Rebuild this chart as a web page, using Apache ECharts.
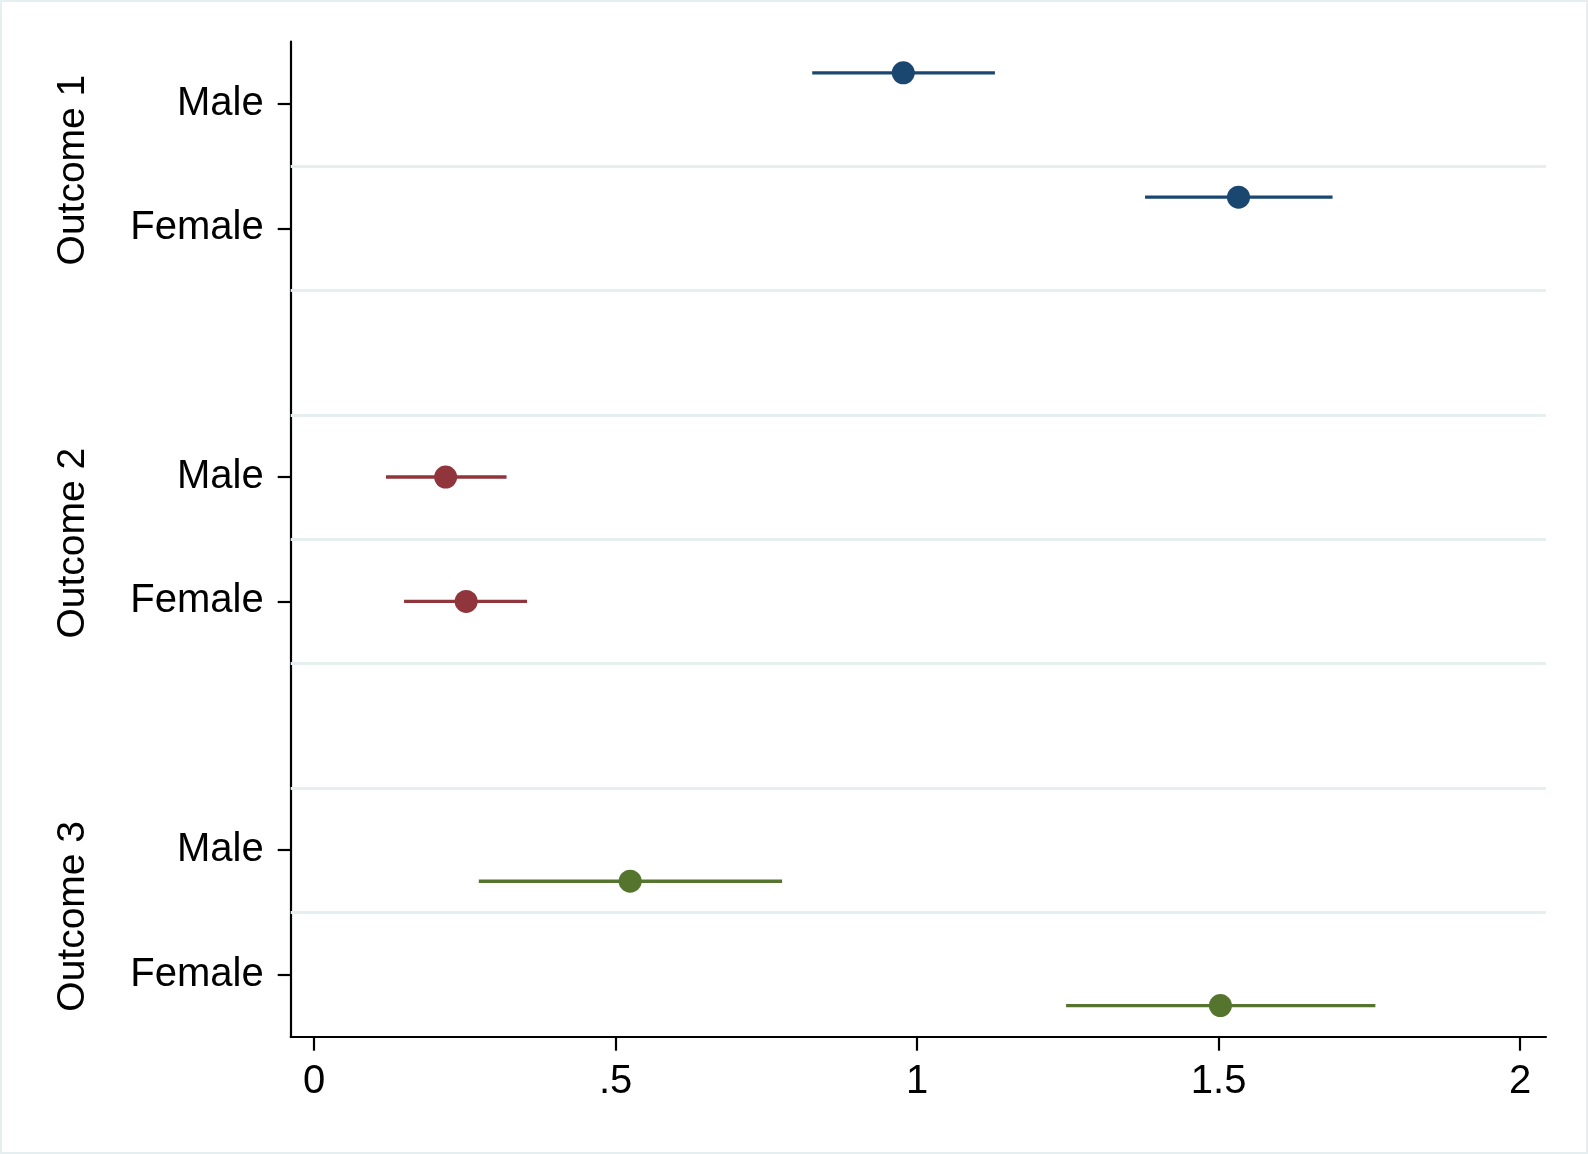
<!DOCTYPE html>
<html>
<head>
<meta charset="utf-8">
<title>Coefficient plot</title>
<script src="https://cdn.jsdelivr.net/npm/echarts@6/dist/echarts.min.js"></script>
<style>
  html, body { margin: 0; padding: 0; background: #fff; }
  #frame { width: 1588px; height: 1154px; box-sizing: border-box; border: 2px solid #e6eef0; }
  #chart { width: 1584px; height: 1150px; }
</style>
</head>
<body>
<div id="frame"><div id="chart"></div></div>
<script>
// data
var outcomes = ['Outcome 1', 'Outcome 2', 'Outcome 3'];
var groups = ['Male', 'Female'];
var estimate = [[0.977, 1.533], [0.218, 0.252], [0.524, 1.503]];
var ciLow    = [[0.826, 1.378], [0.119, 0.149], [0.273, 1.247]];
var ciHigh   = [[1.129, 1.689], [0.319, 0.353], [0.776, 1.760]];
var xTicks = [0, 0.5, 1, 1.5, 2];

// look
var colors = ['#1a476f', '#90353b', '#55752f'];
var offsets = [-0.25, 0, 0.25];   // markers sit off the row line as in the original
var font = 'Liberation Sans, Arial, Helvetica, sans-serif';

// row layout: each outcome gets its groups plus one empty row
var rowsPer = groups.length + 1;
var lastRow = outcomes.length * rowsPer - 2;
var rowTicks = [], rowNames = {}, groupCenters = [], groupNames = {}, gridLines = [];
outcomes.forEach(function (o, i) {
    groups.forEach(function (g, j) {
        var r = i * rowsPer + j;
        rowTicks.push(r);
        rowNames[r] = g;
    });
    var c = i * rowsPer + (groups.length - 1) / 2;
    groupCenters.push(c);
    groupNames[c] = o;
});
for (var k = 0; k < lastRow; k++) gridLines.push({ yAxis: k + 0.5 });

var series = [{
    type: 'line',
    data: [],
    z: 1,
    markLine: {
        silent: true,
        symbol: 'none',
        animation: false,
        label: { show: false },
        lineStyle: { color: '#e6eef0', width: 3, type: 'solid' },
        data: gridLines
    }
}];

outcomes.forEach(function (o, i) {
    var bars = [], pts = [];
    groups.forEach(function (g, j) {
        var y = i * rowsPer + j + offsets[i];
        bars.push([ciLow[i][j], ciHigh[i][j], y]);
        pts.push([estimate[i][j], y]);
    });
    series.push({
        type: 'custom',
        name: o,
        z: 2,
        data: bars,
        encode: { x: [0, 1], y: 2 },
        renderItem: function (params, api) {
            var a = api.coord([api.value(0), api.value(2)]);
            var b = api.coord([api.value(1), api.value(2)]);
            return {
                type: 'line',
                shape: { x1: a[0], y1: a[1], x2: b[0], y2: b[1] },
                style: { stroke: colors[i], lineWidth: 3.3 }
            };
        }
    });
    series.push({
        type: 'scatter',
        name: o,
        z: 3,
        data: pts,
        symbol: 'circle',
        symbolSize: 23,
        itemStyle: { color: colors[i], opacity: 1 }
    });
});

var yBase = {
    type: 'value',
    inverse: true,
    min: -0.5,
    max: lastRow + 0.5,
    splitLine: { show: false }
};

var chart = echarts.init(document.getElementById('chart'));
chart.setOption({
    animation: false,
    backgroundColor: '#fff',
    textStyle: { fontFamily: font },
    grid: { left: 288.7, right: 40, top: 39.7, bottom: 115.3 },
    xAxis: {
        type: 'value',
        min: -0.039,
        max: 2.043,
        splitLine: { show: false },
        axisLine: { onZero: false, lineStyle: { color: '#000', width: 2.2 } },
        axisTick: { customValues: xTicks, length: 14, lineStyle: { color: '#000', width: 2.2 } },
        axisLabel: {
            customValues: xTicks,
            color: '#000', fontSize: 40, fontFamily: font, margin: 25,
            formatter: function (v) { return String(v).replace(/^0\./, '.'); }
        }
    },
    yAxis: [
        Object.assign({}, yBase, {
            axisLine: { show: true, onZero: false, lineStyle: { color: '#000', width: 2.2 } },
            axisTick: { customValues: rowTicks, length: 13, lineStyle: { color: '#000', width: 2.2 } },
            axisLabel: {
                customValues: rowTicks,
                color: '#000', fontSize: 40, fontFamily: font, margin: 27,
                padding: [9, 0, 0, 0],
                formatter: function (v) { return rowNames[v] || ''; }
            }
        }),
        Object.assign({}, yBase, {
            position: 'left',
            axisLine: { show: false, onZero: false },
            axisTick: { show: false },
            axisLabel: {
                customValues: groupCenters,
                rotate: 90,
                color: '#000', fontSize: 39, fontFamily: font, margin: 198,
                padding: [0, 8, 0, 0],
                formatter: function (v) { return groupNames[v] || ''; }
            }
        })
    ],
    series: series
});
</script>
</body>
</html>
